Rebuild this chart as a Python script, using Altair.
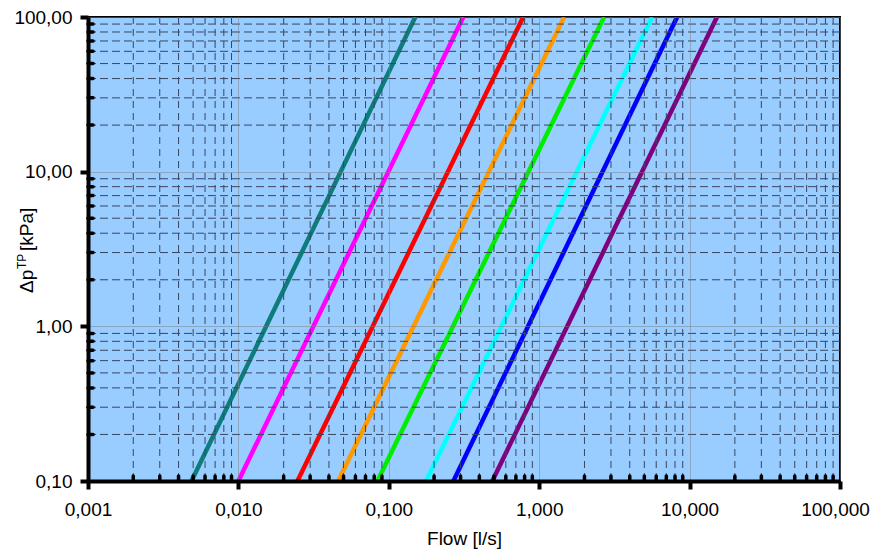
import altair as alt
import pandas as pd

# ---- data ----
series = ["1", "2", "3", "4", "5", "6", "7", "8"]
colors = ["#0E7C7B", "#FF00FF", "#FF0000", "#FF9900", "#00EE00", "#00FFFF", "#0000FF", "#800080"]
dp_low = 0.1      # kPa at the bottom end of every curve
dp_high = 100.0   # kPa at the top end of every curve
q_at_low = [0.00488, 0.0100, 0.0247, 0.0461, 0.0840, 0.177, 0.269, 0.488]   # l/s
q_at_high = [0.150, 0.313, 0.783, 1.466, 2.70, 5.64, 8.26, 15.2]           # l/s

x_major = [0.001, 0.01, 0.1, 1, 10, 100]
y_major = [0.1, 1, 10, 100]
x_decades = [0.001, 0.01, 0.1, 1, 10]
y_decades = [0.1, 1, 10]
mult = [2, 3, 4, 5, 6, 7, 8, 9]

x_minor = [d * m for d in x_decades for m in mult]
y_minor = [d * m for d in y_decades for m in mult]

rows = []
for s, ql, qh in zip(series, q_at_low, q_at_high):
    rows.append({"s": s, "q": ql, "dp": dp_low})
    rows.append({"s": s, "q": qh, "dp": dp_high})
df = pd.DataFrame(rows)
dfx = pd.DataFrame({"v": x_minor})
dfy = pd.DataFrame({"v": y_minor})

W, H = 752, 464
FONT = "Liberation Sans"

xscale = alt.Scale(type="log", domain=[0.001, 100], nice=False)
yscale = alt.Scale(type="log", domain=[0.1, 100], nice=False)

xaxis = alt.Axis(
    values=x_major, labelExpr="replace(format(datum.value, '.3f'), '.', ',')",
    title="Flow [l/s]", titleFontSize=19, titleFontWeight="normal", titleFont=FONT,
    titleY=63, titleBaseline="alphabetic", titleColor="#000",
    labelFont=FONT, labelFontSize=19, labelColor="#000", labelPadding=11,
    labelFlush=False, labelOverlap=False,
    labelOffset={"expr": "datum.value >= 100 ? -5 : 0"},
    tickSize=8, tickWidth=4, tickColor="#000",
    domainColor="#000", domainWidth=4,
    grid=True, gridColor="#808080", gridDash=[1, 1], gridWidth=1, zindex=1,
)
yaxis = alt.Axis(
    values=y_major, labelExpr="replace(format(datum.value, '.2f'), '.', ',')",
    title=None,
    labelFont=FONT, labelFontSize=19, labelColor="#000", labelPadding=8,
    labelFlush=False, labelOverlap=False,
    tickSize=8, tickWidth=4, tickColor="#000",
    domainColor="#000", domainWidth=4,
    grid=True, gridColor="#808080", gridDash=[1, 1], gridWidth=1, zindex=1,
)

lines = alt.Chart(df).mark_line(strokeWidth=4.5, clip=True).encode(
    x=alt.X("q:Q", scale=xscale, axis=xaxis),
    y=alt.Y("dp:Q", scale=yscale, axis=yaxis),
    color=alt.Color("s:N", scale=alt.Scale(domain=series, range=colors), legend=None),
    order=alt.Order("dp:Q"),
)

GRID = "#3A4660"
minor_vx = alt.Chart(dfx).mark_rule(strokeDash=[7, 5], color=GRID, strokeWidth=1).encode(
    x=alt.X("v:Q", scale=xscale, axis=xaxis))
minor_hy = alt.Chart(dfy).mark_rule(strokeDash=[8, 4], color=GRID, strokeWidth=1).encode(
    y=alt.Y("v:Q", scale=yscale, axis=yaxis))

tick_x = alt.Chart(dfx).mark_rule(color="#000", strokeWidth=3.5, strokeCap="round").encode(
    x=alt.X("v:Q", scale=xscale, axis=xaxis), y=alt.value(H), y2=alt.value(H - 5))
tick_y = alt.Chart(dfy).mark_rule(color="#000", strokeWidth=3.5, strokeCap="round").encode(
    y=alt.Y("v:Q", scale=yscale, axis=yaxis), x=alt.value(0), x2=alt.value(5))

t1 = alt.Chart(pd.DataFrame({"t": ["Δp"]})).mark_text(
    angle=270, align="left", baseline="alphabetic", fontSize=19, font=FONT, color="#000"
).encode(x=alt.value(-55), y=alt.value(276), text="t:N")
t2 = alt.Chart(pd.DataFrame({"t": ["TP"]})).mark_text(
    angle=270, align="left", baseline="alphabetic", fontSize=12, font=FONT, color="#000"
).encode(x=alt.value(-62), y=alt.value(252), text="t:N")
t3 = alt.Chart(pd.DataFrame({"t": ["[kPa]"]})).mark_text(
    angle=270, align="left", baseline="alphabetic", fontSize=19, font=FONT, color="#000"
).encode(x=alt.value(-55), y=alt.value(234), text="t:N")

chart = alt.layer(lines, minor_vx, minor_hy, tick_x, tick_y, t1, t2, t3).properties(
    width=W, height=H,
    autosize=alt.AutoSizeParams(type="none"),
    padding={"left": 80, "top": 9, "right": 31, "bottom": 70},
    background="white",
).configure_view(fill="#99CCFF", stroke="#000", strokeWidth=2)

chart.save("out.html", embed_options={"renderer": "svg", "actions": False})
